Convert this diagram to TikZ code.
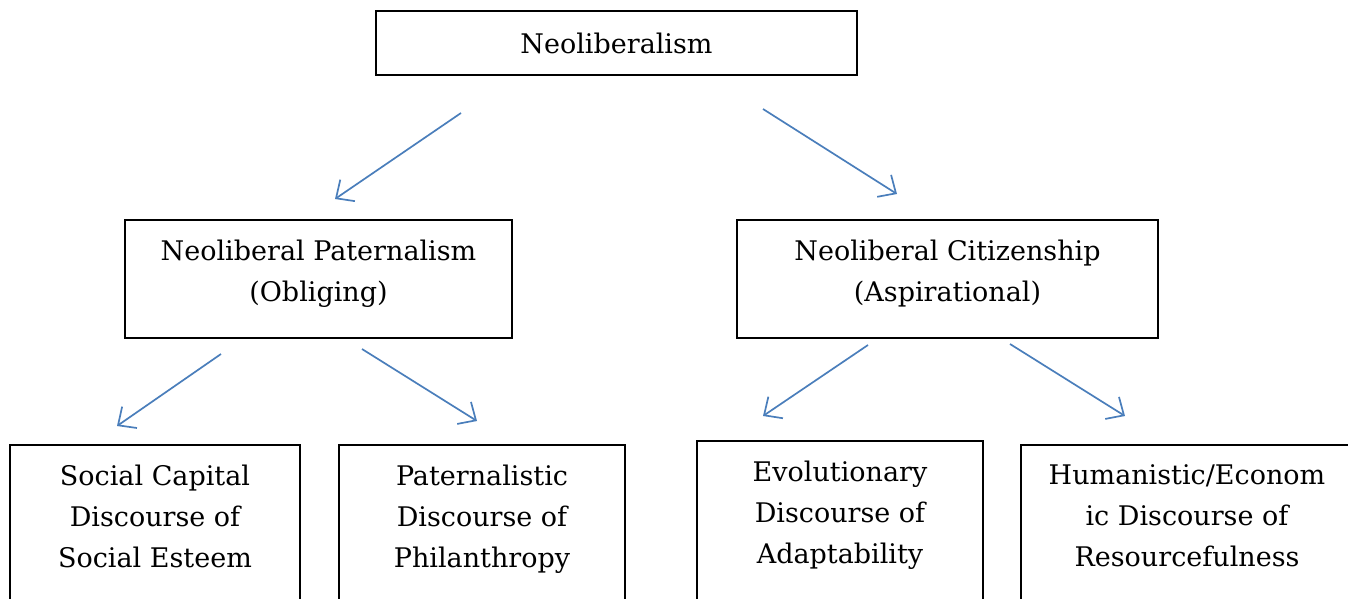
\documentclass[tikz,border=0pt]{standalone}
\usepackage{fontspec}
\setmainfont{DejaVu Serif}
\usetikzlibrary{arrows.meta}
\definecolor{linkblue}{RGB}{74,126,187}
\tikzset{
  box/.style={draw, line width=1.5pt, align=center, inner sep=0pt,
    font=\fontsize{27}{41}\selectfont},
  midbox/.style={box, minimum height=118, text depth=16pt},
  openbox/.style={box, anchor=north, text depth=130pt, inner ysep=20pt},
  link/.style={draw=linkblue, line width=1.7pt,
    -{Straight Barb[length=14pt,width=26pt,line width=1.7pt]}}
}
\begin{document}
\begin{tikzpicture}[x=1pt,y=-1pt]

\clip (0,0) rectangle (1348,598);

% Top
\node[box, minimum width=481, minimum height=64] (neo) at (616.5,43) {Neoliberalism};

% Middle row
\node[midbox, minimum width=387] (pat) at (318.5,279) {Neoliberal Paternalism\\(Obliging)};
\node[midbox, minimum width=421] (cit) at (947.5,279) {Neoliberal Citizenship\\(Aspirational)};

% Bottom row
\node[openbox, minimum width=290] (esteem) at (155,444) {Social Capital\\Discourse of\\Social Esteem};
\node[openbox, minimum width=286] (phil) at (482,444) {Paternalistic\\Discourse of\\Philanthropy};
\node[openbox, minimum width=286] (adapt) at (840,440) {Evolutionary\\Discourse of\\Adaptability};
\node[openbox, minimum width=332] (resource) at (1187,444) {Humanistic/Econom\\ic Discourse of\\Resourcefulness};

% Arrow ends
\coordinate (neo-l) at (461,113);
\coordinate (pat-in) at (335,199);
\coordinate (neo-r) at (763,109);
\coordinate (cit-in) at (897,194);
\coordinate (pat-l) at (221,354);
\coordinate (esteem-in) at (117,426);
\coordinate (pat-r) at (362,349);
\coordinate (phil-in) at (477,421);
\coordinate (cit-l) at (868,345);
\coordinate (adapt-in) at (763,416);
\coordinate (cit-r) at (1010,344);
\coordinate (resource-in) at (1125,416);

% Arrows
\draw[link] (neo-l) -- (pat-in);
\draw[link] (neo-r) -- (cit-in);
\draw[link] (pat-l) -- (esteem-in);
\draw[link] (pat-r) -- (phil-in);
\draw[link] (cit-l) -- (adapt-in);
\draw[link] (cit-r) -- (resource-in);

\end{tikzpicture}
\end{document}
